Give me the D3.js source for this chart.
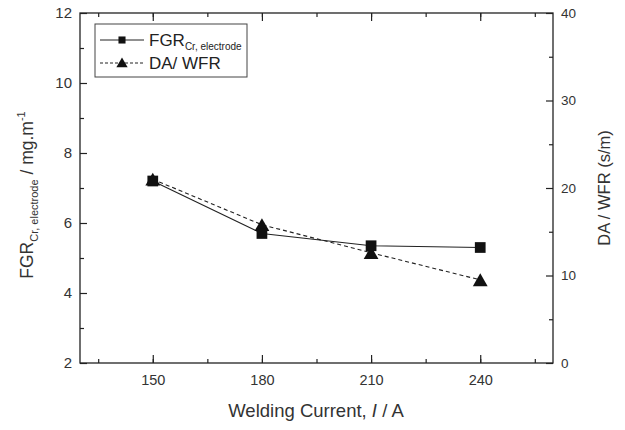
<!DOCTYPE html>
<html>
<head>
<meta charset="utf-8">
<script src="https://cdn.jsdelivr.net/npm/d3@7"></script>
<style>
  body { margin: 0; background: #fff; }
  svg text { font-family: "Liberation Sans", Arial, sans-serif; }
</style>
</head>
<body>
<div id="chart"></div>
<script>
// data
const currents = [150, 180, 210, 240];
const fgrValues = [7.2, 5.7, 5.35, 5.3];        // left axis, mg/m
const dawfrValues = [21.0, 15.8, 12.6, 9.5];    // right axis, s/m
const xTicks = [150, 180, 210, 240];
const leftTicks = [2, 4, 6, 8, 10, 12];
const rightTicks = [0, 10, 20, 30, 40];

const W = 625, H = 430;
const plot = { left: 80, right: 553, top: 13, bottom: 363 };
const ink = "#222";
const labelInk = "#333";

const svg = d3.select("#chart").append("svg")
  .attr("width", W)
  .attr("height", H);

const x = d3.scaleLinear().domain([130, 260]).range([plot.left, plot.right]);
const yL = d3.scaleLinear().domain([2, 12]).range([plot.bottom, plot.top]);
const yR = d3.scaleLinear().domain([0, 40]).range([plot.bottom, plot.top]);

// helper to style an axis group
function styleAxis(g, size = 14) {
  g.select(".domain").remove();
  g.selectAll("line").attr("stroke", ink).attr("stroke-width", 1.2);
  g.selectAll("text")
    .attr("font-size", size)
    .attr("fill", labelInk)
    .attr("font-family", "'Liberation Sans', Arial, sans-serif");
}

const minorX = d3.range(135, 260, 15);
const minorL = d3.range(3, 12, 2);
const minorR = d3.range(5, 40, 10);

// bottom
svg.append("g").attr("transform", `translate(0,${plot.bottom})`)
  .call(d3.axisBottom(x).tickValues(xTicks).tickSizeInner(-8).tickSizeOuter(0).tickPadding(12))
  .call(styleAxis, 14.5);
svg.append("g").attr("transform", `translate(0,${plot.bottom})`)
  .call(d3.axisBottom(x).tickValues(minorX).tickSizeInner(-4).tickSizeOuter(0).tickFormat(""))
  .call(styleAxis);
// top (mirror, no labels)
svg.append("g").attr("transform", `translate(0,${plot.top})`)
  .call(d3.axisTop(x).tickValues(xTicks).tickSizeInner(-8).tickSizeOuter(0).tickFormat(""))
  .call(styleAxis);
svg.append("g").attr("transform", `translate(0,${plot.top})`)
  .call(d3.axisTop(x).tickValues(minorX).tickSizeInner(-4).tickSizeOuter(0).tickFormat(""))
  .call(styleAxis);
// left
svg.append("g").attr("transform", `translate(${plot.left},0)`)
  .call(d3.axisLeft(yL).tickValues(leftTicks).tickSizeInner(-7).tickSizeOuter(0).tickPadding(8).tickFormat(d3.format("d")))
  .call(styleAxis, 15);
svg.append("g").attr("transform", `translate(${plot.left},0)`)
  .call(d3.axisLeft(yL).tickValues(minorL).tickSizeInner(-4).tickSizeOuter(0).tickFormat(""))
  .call(styleAxis);
// right
svg.append("g").attr("transform", `translate(${plot.right},0)`)
  .call(d3.axisRight(yR).tickValues(rightTicks).tickSizeInner(-7).tickSizeOuter(0).tickPadding(8).tickFormat(d3.format("d")))
  .call(styleAxis, 13.5);
svg.append("g").attr("transform", `translate(${plot.right},0)`)
  .call(d3.axisRight(yR).tickValues(minorR).tickSizeInner(-4).tickSizeOuter(0).tickFormat(""))
  .call(styleAxis);

// frame
svg.append("rect")
  .attr("x", plot.left).attr("y", plot.top)
  .attr("width", plot.right - plot.left)
  .attr("height", plot.bottom - plot.top)
  .attr("fill", "none").attr("stroke", ink).attr("stroke-width", 1.3);

// series
const fgr = currents.map((c, i) => ({ x: c, y: fgrValues[i] }));
const da = currents.map((c, i) => ({ x: c, y: dawfrValues[i] }));

svg.append("path").datum(fgr)
  .attr("d", d3.line().x(d => x(d.x)).y(d => yL(d.y)))
  .attr("fill", "none").attr("stroke", ink).attr("stroke-width", 1.1);
svg.append("path").datum(da)
  .attr("d", d3.line().x(d => x(d.x)).y(d => yR(d.y)))
  .attr("fill", "none").attr("stroke", ink).attr("stroke-width", 1.1)
  .attr("stroke-dasharray", "4,3");

const sq = d3.symbol().type(d3.symbolSquare).size(115);
const tri = d3.symbol().type(d3.symbolTriangle).size(95);

svg.append("g").selectAll("path").data(da).join("path")
  .attr("d", tri)
  .attr("transform", d => `translate(${x(d.x)},${yR(d.y) + 2})`)
  .attr("fill", "#111");
svg.append("g").selectAll("path").data(fgr).join("path")
  .attr("d", sq)
  .attr("transform", d => `translate(${x(d.x)},${yL(d.y)})`)
  .attr("fill", "#111");

// legend
const leg = svg.append("g");
leg.append("rect")
  .attr("x", 95).attr("y", 24).attr("width", 152).attr("height", 53)
  .attr("fill", "#fff").attr("stroke", "#444").attr("stroke-width", 1);
const legRows = [
  { y: 40, dash: null, sym: "square" },
  { y: 63, dash: "3,2", sym: "triangle" }
];
legRows.forEach(r => {
  leg.append("line")
    .attr("x1", 100).attr("x2", 144).attr("y1", r.y).attr("y2", r.y)
    .attr("stroke", ink).attr("stroke-width", 1)
    .attr("stroke-dasharray", r.dash);
  leg.append("path")
    .attr("d", r.sym === "square" ? d3.symbol().type(d3.symbolSquare).size(50)() : d3.symbol().type(d3.symbolTriangle).size(55)())
    .attr("transform", `translate(122,${r.y + (r.sym === "triangle" ? 1 : 0)})`)
    .attr("fill", "#111");
});
const t1 = leg.append("text").attr("x", 149).attr("y", 46).attr("font-size", 17).attr("fill", ink);
t1.append("tspan").text("FGR");
t1.append("tspan").attr("font-size", 10).attr("dy", 4).text("Cr, electrode");
leg.append("text").attr("x", 149).attr("y", 69).attr("font-size", 17).attr("fill", ink).text("DA/ WFR");

// axis titles
const lt = svg.append("text")
  .attr("transform", `translate(33,195) rotate(-90)`)
  .attr("text-anchor", "middle")
  .attr("font-size", 17.5).attr("fill", labelInk);
lt.append("tspan").text("FGR");
lt.append("tspan").attr("font-size", 11).attr("dy", 5).text("Cr, electrode");
lt.append("tspan").attr("dy", -5).text(" / mg.m");
lt.append("tspan").attr("font-size", 11).attr("dy", -8).text("-1");

svg.append("text")
  .attr("transform", `translate(610,${(plot.top + plot.bottom) / 2}) rotate(-90)`)
  .attr("text-anchor", "middle")
  .attr("font-size", 16.5).attr("fill", labelInk)
  .text("DA / WFR (s/m)");

const bt = svg.append("text")
  .attr("x", 316).attr("y", 417)
  .attr("text-anchor", "middle")
  .attr("font-size", 18.5).attr("fill", labelInk);
bt.append("tspan").text("Welding Current, ");
bt.append("tspan").attr("font-style", "italic").text("I");
bt.append("tspan").text(" / A");
</script>
</body>
</html>
